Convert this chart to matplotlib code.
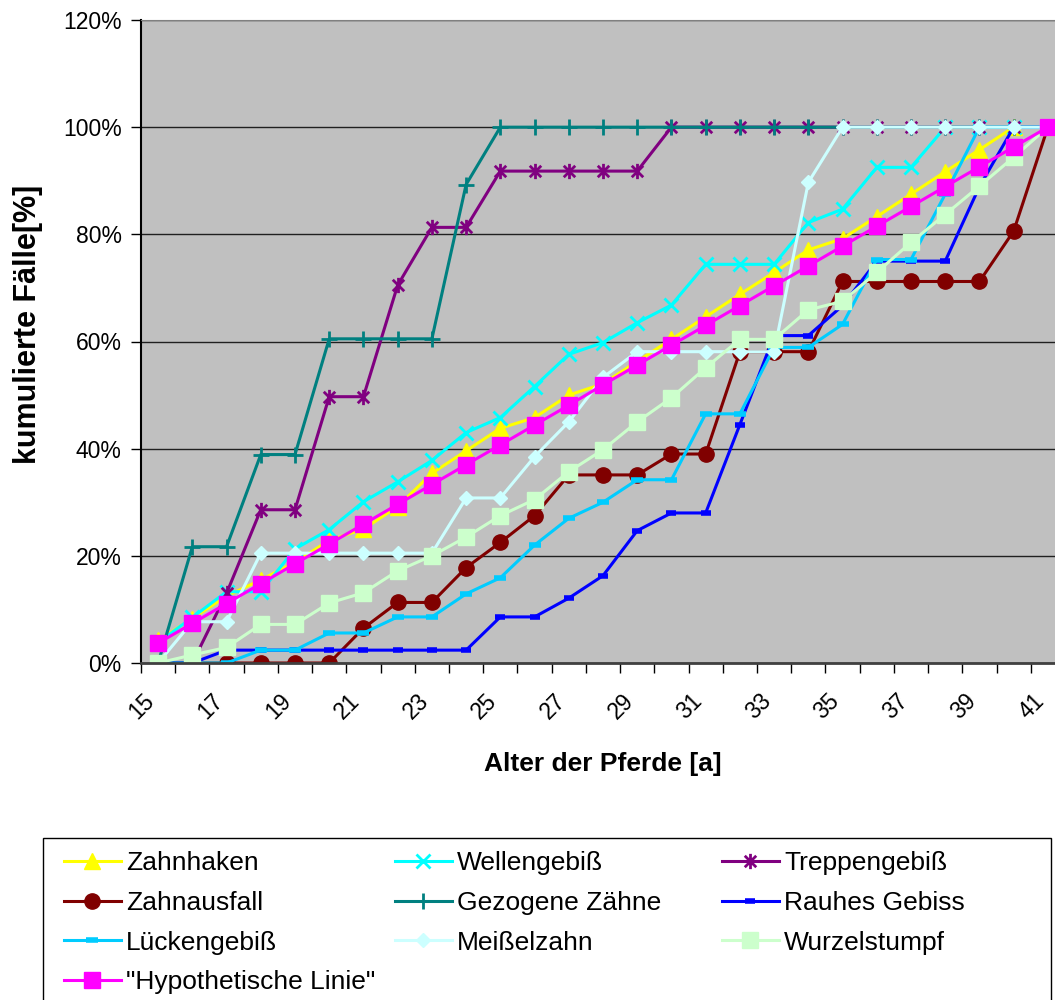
import matplotlib.pyplot as plt
from matplotlib.patches import Rectangle
from matplotlib.path import Path
from matplotlib.transforms import ScaledTranslation

plt.rcParams['font.family'] = ['Liberation Sans', 'DejaVu Sans']

# Alter der Pferde in Jahren
ages = list(range(15, 42))

# kumulierte Fälle in Prozent je Befund
zahnhaken = [4.2, 8.3, 12.5, 15.5, 18.8, 22.9, 25.0, 29.2, 35.4, 39.6, 43.8, 45.8, 50.0, 52.1,
             56.3, 60.4, 64.6, 68.8, 72.9, 77.1, 79.2, 83.3, 87.5, 91.7, 95.8, 100, 100]
wellengebiss = [3.8, 8.5, 13.3, 13.3, 21.3, 24.9, 30.1, 33.8, 37.8, 43.0, 45.8, 51.6, 57.6, 59.8,
                63.5, 66.8, 74.4, 74.4, 74.4, 82.2, 84.7, 92.5, 92.5, 100, 100, 100, 100]
treppengebiss = [0, 0, 13.0, 28.6, 28.6, 49.7, 49.7, 70.5, 81.3, 81.3, 91.8, 91.8, 91.8, 91.8,
                 91.8, 100, 100, 100, 100, 100, 100, 100, 100, 100, 100, 100, 100]
zahnausfall = [0, 0, 0, 0, 0, 0, 6.5, 11.3, 11.3, 17.8, 22.5, 27.5, 35.1, 35.1,
               35.1, 39.0, 39.0, 58.1, 58.1, 58.1, 71.2, 71.2, 71.2, 71.2, 71.2, 80.6, 100]
gezogene = [0, 21.7, 21.7, 38.9, 38.9, 60.5, 60.5, 60.5, 60.5, 89.3, 100, 100, 100, 100,
            100, 100, 100, 100, 100, 100, 100, 100, 100, 100, 100, 100, 100]
rauhes = [0, 0, 2.4, 2.4, 2.4, 2.4, 2.4, 2.4, 2.4, 2.4, 8.6, 8.6, 12.1, 16.3,
          24.7, 28.0, 28.0, 44.5, 61.1, 61.1, 66.7, 75.0, 75.0, 75.0, 88.9, 100, 100]
lueckengebiss = [0, 0, 0, 2.4, 2.4, 5.6, 5.6, 8.6, 8.6, 12.9, 15.9, 22.0, 27.0, 30.0,
                 34.2, 34.2, 46.5, 46.5, 58.9, 58.9, 63.2, 75.3, 75.3, 87.5, 100, 100, 100]
meisselzahn = [0, 7.7, 7.7, 20.5, 20.5, 20.5, 20.5, 20.5, 20.5, 30.8, 30.8, 38.5, 45.0, 53.3,
               58.1, 58.1, 58.1, 58.1, 58.1, 89.7, 100, 100, 100, 100, 100, 100, 100]
wurzelstumpf = [0, 1.5, 2.9, 7.2, 7.2, 11.2, 13.1, 17.2, 20.0, 23.5, 27.5, 30.5, 35.7, 39.8,
                45.0, 49.5, 55.1, 60.4, 60.4, 65.9, 67.5, 72.9, 78.5, 83.7, 89.0, 94.4, 100]
hypothetisch = [3.7, 7.4, 11.1, 14.8, 18.5, 22.2, 25.9, 29.6, 33.3, 37.0, 40.7, 44.4, 48.1, 51.9,
                55.6, 59.3, 63.0, 66.7, 70.4, 74.1, 77.8, 81.5, 85.2, 88.9, 92.6, 96.3, 100]

y_ticks = [0, 20, 40, 60, 80, 100, 120]

# Sternchen wie in Excel: Kreuz mit senkrechtem Strich
star = Path([(0, -1), (0, 1), (-0.75, -0.75), (0.75, 0.75), (-0.75, 0.75), (0.75, -0.75)],
            [Path.MOVETO, Path.LINETO, Path.MOVETO, Path.LINETO, Path.MOVETO, Path.LINETO])

series = [
    ('Zahnhaken', zahnhaken, '#FFFF00', dict(marker='^', ms=11)),
    ('Wellengebiß', wellengebiss, '#00FFFF', dict(marker='x', ms=10, mew=2)),
    ('Treppengebiß', treppengebiss, '#800080', dict(marker=star, ms=11, mew=2)),
    ('Zahnausfall', zahnausfall, '#800000', dict(marker='o', ms=11)),
    ('Gezogene Zähne', gezogene, '#008080', dict(marker='+', ms=11, mew=2)),
    ('Rauhes Gebiss', rauhes, '#0000FF', dict(marker='_', ms=7, mew=4)),
    ('Lückengebiß', lueckengebiss, '#00CCFF', dict(marker='_', ms=9, mew=4)),
    ('Meißelzahn', meisselzahn, '#CCFFFF', dict(marker='D', ms=7.5)),
    ('Wurzelstumpf', wurzelstumpf, '#CCFFCC', dict(marker='s', ms=11)),
    ('"Hypothetische Linie"', hypothetisch, '#FF00FF', dict(marker='s', ms=11)),
]

fig = plt.figure(figsize=(10.55, 10), dpi=100)
# Diagrammfläche reicht rechts über den Bildrand hinaus
ax = fig.add_axes([141 / 1055, 337 / 1000, 924 / 1055, 643 / 1000])
ax.set_facecolor('#C0C0C0')

x = list(range(len(ages)))
handles = []
for name, vals, col, mk in series:
    h, = ax.plot(x, vals, color=col, lw=2.2, mec=col, mfc=col, label=name, **mk)
    handles.append(h)

ax.set_xlim(-0.5, len(ages) - 0.5)
ax.set_ylim(0, 120)

ax.set_xticks([i - 0.5 for i in range(len(ages) + 1)])
ax.set_xticklabels([])
ax.set_xticks(x[::2], minor=True)
ax.set_xticklabels([str(a) for a in ages[::2]], minor=True, rotation=45,
                   ha='right', va='center', rotation_mode='anchor', fontsize=16.5)
ax.tick_params(axis='x', which='major', length=7, width=1, direction='out')
ax.tick_params(axis='x', which='minor', length=0, pad=25)
shift = ScaledTranslation(-5 / 72, 0, fig.dpi_scale_trans)
for lbl in ax.get_xticklabels(minor=True):
    lbl.set_transform(lbl.get_transform() + shift)

ax.set_yticks(y_ticks)
ax.set_yticklabels(['%d%%' % v for v in y_ticks], fontsize=16.5)
ax.tick_params(axis='y', length=7, width=1, direction='out', pad=7)

ax.yaxis.grid(True, color='#202020', lw=1)
ax.set_axisbelow(True)

ax.spines['left'].set_color('black')
ax.spines['left'].set_linewidth(1.5)
ax.spines['bottom'].set_color('#404040')
ax.spines['bottom'].set_linewidth(2)
ax.spines['top'].set_color('#808080')
ax.spines['right'].set_color('#808080')

ax.set_xlabel('Alter der Pferde [a]', fontsize=19, fontweight='bold', labelpad=20)
ax.set_ylabel('kumulierte Fälle[%]', fontsize=22, fontweight='bold', labelpad=14)
ax.yaxis.label.set_y(0.526)

# Legendenrahmen, unten und rechts abgeschnitten
fig.patches.append(Rectangle((43 / 1055, -0.02), 1008 / 1055, 0.182, transform=fig.transFigure,
                             facecolor='white', edgecolor='black', lw=1, zorder=0))

columns = [[0, 3, 6, 9], [1, 4, 7], [2, 5, 8]]
col_x = [64, 395, 722]
for cx, idx in zip(col_x, columns):
    fig.legend([handles[i] for i in idx], [series[i][0] for i in idx],
               loc='upper left', bbox_to_anchor=(cx / 1055, 1 - 851 / 1000),
               frameon=False, fontsize=19, handlelength=2.15, handletextpad=0.2,
               labelspacing=0.6, borderpad=0, borderaxespad=0, numpoints=1)

fig.savefig('out.png', dpi=100)
